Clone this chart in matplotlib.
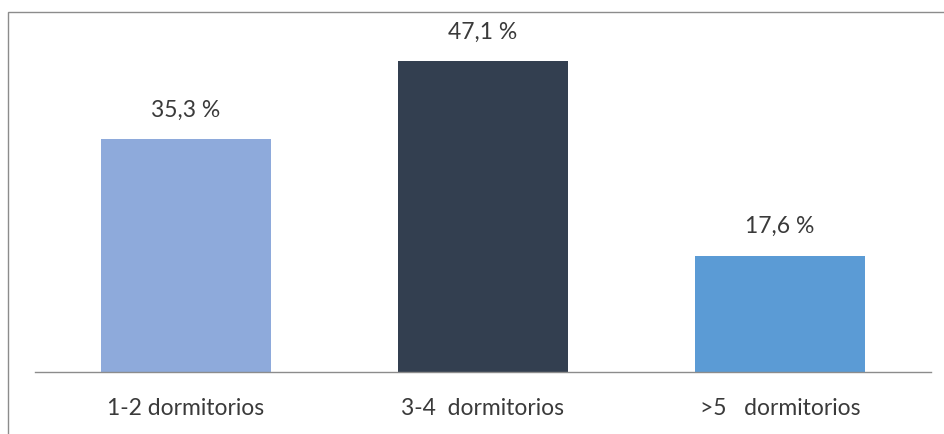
import matplotlib
matplotlib.use("Agg")
import matplotlib.pyplot as plt
from matplotlib.patches import Rectangle

categories = ["1-2 dormitorios", "3-4  dormitorios", ">5   dormitorios"]
values = [35.3, 47.1, 17.6]
colors = ["#8EAADB", "#333F50", "#5B9BD5"]

plt.rcParams["font.family"] = ["Lato", "DejaVu Sans"]

fig = plt.figure(figsize=(9.45, 4.34), dpi=100)
W, H = 945, 434

# chart area border (only left and top edges fall inside the image)
fig.patches.append(Rectangle((8 / W, -0.1), 1.2, (H - 12) / H + 0.1,
                             transform=fig.transFigure, fill=False,
                             edgecolor="#8C8C8C", linewidth=1.0))

ax = fig.add_axes([35 / W, 1 - 372 / H, (931 - 35) / W, (372 - 20) / H])
x = range(len(categories))
bars = ax.bar(x, values, width=0.572, color=colors)
ax.set_xlim(-0.508, 2.508)
ax.set_ylim(0, 352 / 6.6)

for b, v in zip(bars, values):
    ax.text(b.get_x() + b.get_width() / 2, v + 4.4, f"{v:.1f} %".replace(".", ","),
            ha="center", va="center", fontsize=16.5, color="#3A3A3A")

for s in ["top", "right", "left"]:
    ax.spines[s].set_visible(False)
ax.spines["bottom"].set_color("#8C8C8C")
ax.spines["bottom"].set_linewidth(1.0)
ax.set_yticks([])
ax.set_xticks(list(x))
ax.set_xticklabels(categories, fontsize=16.5, color="#3A3A3A")
ax.tick_params(axis="x", length=0, pad=19)

fig.savefig("out.png", dpi=100)
